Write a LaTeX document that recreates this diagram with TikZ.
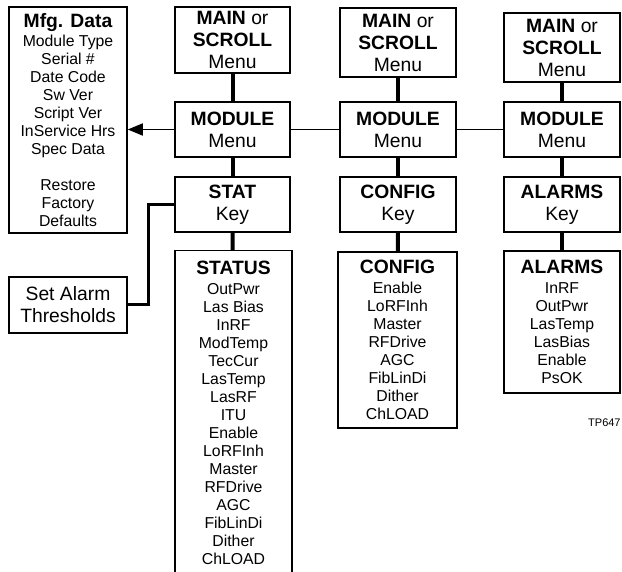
\documentclass[tikz,border=0pt]{standalone}
\usepackage{fontspec}
\setmainfont{Liberation Sans}
\usepackage{tikz}
\usetikzlibrary{arrows.meta,positioning}
\newcommand{\headsize}{\fontsize{19.3}{22}\selectfont}
\newcommand{\listsize}{\fontsize{15.8}{18}\selectfont}
\newcommand{\boxhead}[1]{{\fontsize{19.3}{18}\selectfont\bfseries #1}}

\begin{document}
\begin{tikzpicture}[
  x=1pt, y=-1pt,
  menubox/.style={
    draw, line width=2.2pt, align=center, font=\headsize,
    minimum width=116pt, minimum height=55pt, inner sep=0pt,
  },
  listbox/.style={
    draw, line width=1.5pt, align=center, font=\listsize,
    inner sep=0pt,
  },
  link/.style={line width=4pt},
  wire/.style={line width=1.7pt},
  arrow/.style={-{Triangle[length=15pt,width=12pt]}, line width=1.7pt},
]
\useasboundingbox (0,0) rectangle (622,572);
\clip (0,0) rectangle (622,572);

% === Left side ===
\node[listbox, minimum width=118pt, minimum height=226pt] (mfg) at (68,120)
  {\boxhead{Mfg. Data}\\[1pt]Module Type\\Serial \#\\Date Code\\Sw Ver\\Script Ver\\InService Hrs\\Spec Data\\[18pt]Restore\\Factory\\Defaults};
\node[listbox, font=\headsize, minimum width=118pt, minimum height=56pt] (alarmset) at (68,305)
  {Set Alarm\\Thresholds};

% === STAT column ===
\node[menubox, minimum width=115pt, minimum height=66pt] (main1) at (232.5,40)
  {\textbf{MAIN} or\\\textbf{SCROLL}\\Menu};
\node[menubox, minimum width=115pt] (module1) at (232.5,129.5) {\textbf{MODULE}\\Menu};
\node[menubox, minimum width=115pt] (statkey) at (232.5,204.5) {\textbf{STAT}\\Key};
\node[listbox, minimum width=117pt, minimum height=324pt, anchor=north] (statlist) at (233.5,250)
  {\boxhead{STATUS}\\[2pt]OutPwr\\Las Bias\\InRF\\ModTemp\\TecCur\\LasTemp\\LasRF\\ITU\\Enable\\LoRFInh\\Master\\RFDrive\\AGC\\FibLinDi\\Dither\\ChLOAD};

% === CONFIG column ===
\node[menubox, minimum height=69pt] (main2) at (398,42.5)
  {\textbf{MAIN} or\\\textbf{SCROLL}\\Menu};
\node[menubox] (module2) at (398,129.5) {\textbf{MODULE}\\Menu};
\node[menubox] (configkey) at (398,204.5) {\textbf{CONFIG}\\Key};
\node[listbox, minimum width=119pt, minimum height=176pt] (configlist) at (397.5,340)
  {\boxhead{CONFIG}\\[2pt]Enable\\LoRFInh\\Master\\RFDrive\\AGC\\FibLinDi\\Dither\\ChLOAD};

% === ALARMS column ===
\node[menubox, minimum height=69pt] (main3) at (562,47.5)
  {\textbf{MAIN} or\\\textbf{SCROLL}\\Menu};
\node[menubox] (module3) at (562,129.5) {\textbf{MODULE}\\Menu};
\node[menubox] (alarmkey) at (562,204.5) {\textbf{ALARMS}\\Key};
\node[listbox, minimum width=116pt, minimum height=142pt] (alarmlist) at (562,322)
  {\boxhead{ALARMS}\\[2pt]InRF\\OutPwr\\LasTemp\\LasBias\\Enable\\PsOK};

\node[font=\fontsize{11}{13}\selectfont, anchor=west, inner sep=0pt] (tpnum) at (588,423) {TP647};

% === Connectors ===
\draw[link] (main1) -- (module1);
\draw[link] (module1) -- (statkey);
\draw[link] (statkey) -- (statlist);
\draw[link] (main2) -- (module2);
\draw[link] (module2) -- (configkey);
\draw[link] (configkey) -- (configlist);
\draw[link] (main3) -- (module3);
\draw[link] (module3) -- (alarmkey);
\draw[link] (alarmkey) -- (alarmlist);
\draw[wire] (module1) -- (module2);
\draw[wire] (module2) -- (module3);
\draw[arrow] (module1.west) -- (module1.west -| mfg.east);
\draw[line width=3pt] (statkey.west) -- ++(-25,0) |- (alarmset.east);

\end{tikzpicture}
\end{document}
